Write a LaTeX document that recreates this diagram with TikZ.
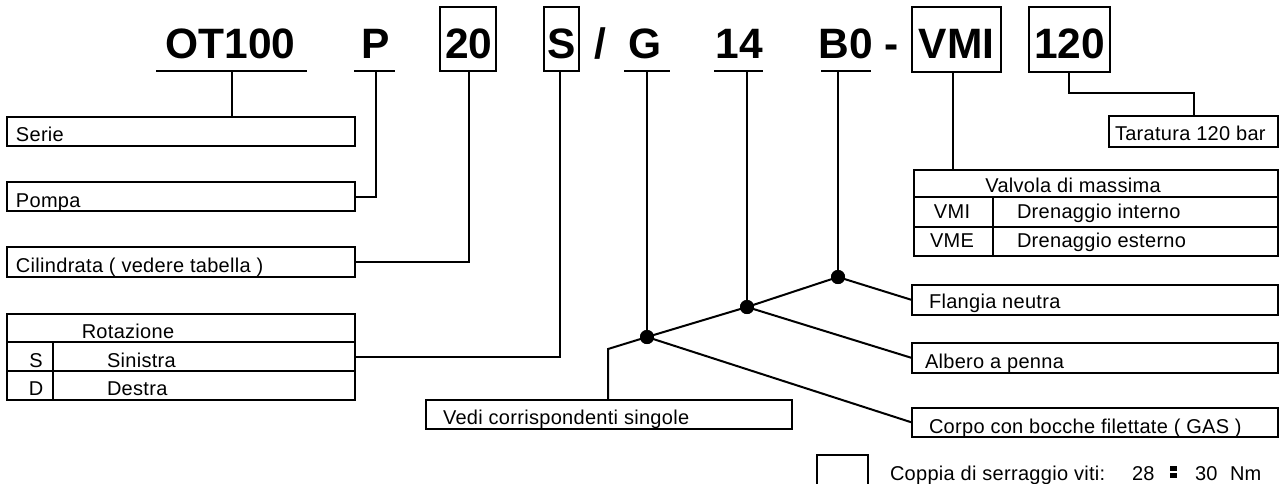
\documentclass[tikz,border=0pt]{standalone}
\usepackage{fontspec}
\setmainfont{Liberation Sans}
\newfontfamily\lblfam[LetterSpace=1.5]{Liberation Sans}
\newcommand\mylblfont{\lblfam\fontsize{20}{20}\selectfont}
\newcommand\mycodefont{\fontsize{42.5}{42.5}\selectfont\bfseries}
\tikzset{
  box/.style={draw, line width=2pt, inner sep=0pt, outer sep=0pt, anchor=north west},
  lbl/.style={font=\mylblfont, anchor=base west, inner sep=0pt, outer sep=0pt},
  lblc/.style={font=\mylblfont, anchor=base, inner sep=0pt, outer sep=0pt},
  code/.style={font=\mycodefont, anchor=base, inner sep=0pt, outer sep=0pt},
  wire/.style={line width=2pt},
  jdot/.style={circle, fill=black, inner sep=0pt, minimum size=14pt},
}
\begin{document}
\begin{tikzpicture}[x=1pt, y=-1pt]
\useasboundingbox (0,0) rectangle (1285,483);

% ---- code line ----
\node[code] (tOT) at (230.5,58) {OT100};
\node[code] (tP) at (376,58) {P};
\node[code] (t20) at (469,58) {20};
\node[code] (tS) at (561.5,58) {S};
\node[code] (tSl) at (600,58) {/};
\node[code] (tG) at (645,58) {G};
\node[code] (t14) at (739.5,58) {14};
\node[code] (tB0) at (845.5,58) {B0};
\node[code] (tDash) at (892,58) {-};
\node[code] (tVMI) at (956.5,58) {VMI};
\node[code] (t120) at (1069.5,58) {120};

\node[box, minimum width=56pt, minimum height=64pt] (b20) at (440,7) {};
\node[box, minimum width=35pt, minimum height=64pt] (bS) at (544,7) {};
\node[box, minimum width=89pt, minimum height=65pt] (bVMI) at (912,7) {};
\node[box, minimum width=81pt, minimum height=65pt] (b120) at (1029,7) {};

% underlines
\coordinate (uOTa) at (156,71); \coordinate (uOTb) at (307,71);
\coordinate (uPa) at (354,71);  \coordinate (uPb) at (395,71);
\coordinate (uGa) at (624,71);  \coordinate (uGb) at (670,71);
\coordinate (u14a) at (714,71); \coordinate (u14b) at (763,71);
\coordinate (uBa) at (821,71);  \coordinate (uBb) at (871,71);
\draw[wire] (uOTa) -- (uOTb);
\draw[wire] (uPa) -- (uPb);
\draw[wire] (uGa) -- (uGb);
\draw[wire] (u14a) -- (u14b);
\draw[wire] (uBa) -- (uBb);

% ---- left boxes ----
\node[box, minimum width=348pt, minimum height=29pt] (serie) at (7,117) {};
\node[lbl] (serieT) at (16,141) {Serie};
\node[box, minimum width=348pt, minimum height=29pt] (pompa) at (7,182) {};
\node[lbl] (pompaT) at (16,207) {Pompa};
\node[box, minimum width=348pt, minimum height=30pt] (cil) at (7,247) {};
\node[lbl] (cilT) at (16,272) {Cilindrata ( vedere tabella )};
\node[box, minimum width=348pt, minimum height=86pt] (rot) at (7,314) {};
\coordinate (r1a) at (7,342); \coordinate (r1b) at (355,342);
\coordinate (r2a) at (7,371); \coordinate (r2b) at (355,371);
\coordinate (rva) at (53,342); \coordinate (rvb) at (53,400);
\draw[wire] (r1a) -- (r1b);
\draw[wire] (r2a) -- (r2b);
\draw[wire] (rva) -- (rvb);
\node[lblc] (rotT) at (128,338) {Rotazione};
\node[lblc] (rotS) at (36,367) {S};
\node[lbl] (rotSi) at (107,367) {Sinistra};
\node[lblc] (rotD) at (36,395) {D};
\node[lbl] (rotDe) at (107,395) {Destra};

% ---- right boxes ----
\node[box, minimum width=169pt, minimum height=31pt] (tar) at (1109,116) {};
\node[lbl] (tarT) at (1115,140) {Taratura 120 bar};
\node[box, minimum width=364pt, minimum height=86pt] (valv) at (914,170) {};
\coordinate (v1a) at (914,197); \coordinate (v1b) at (1278,197);
\coordinate (v2a) at (914,227); \coordinate (v2b) at (1278,227);
\coordinate (vva) at (993,197); \coordinate (vvb) at (993,256);
\draw[wire] (v1a) -- (v1b);
\draw[wire] (v2a) -- (v2b);
\draw[wire] (vva) -- (vvb);
\node[lblc] (valvT) at (1073,192) {Valvola di massima};
\node[lblc] (valvI) at (952,218) {VMI};
\node[lbl] (valvIT) at (1017,218) {Drenaggio interno};
\node[lblc] (valvE) at (952,247) {VME};
\node[lbl] (valvET) at (1017,247) {Drenaggio esterno};

\node[box, minimum width=366pt, minimum height=30pt] (fla) at (912,285) {};
\node[lbl] (flaT) at (929,308) {Flangia neutra};
\node[box, minimum width=366pt, minimum height=30pt] (alb) at (912,343) {};
\node[lbl] (albT) at (925,368) {Albero a penna};
\node[box, minimum width=366pt, minimum height=29pt] (cor) at (912,408) {};
\node[lbl] (corT) at (929,433) {Corpo con bocche filettate ( GAS )};

\node[box, minimum width=366pt, minimum height=29pt] (vedi) at (426,400) {};
\node[lbl] (vediT) at (443,424) {Vedi corrispondenti singole};

% ---- connectors ----
\coordinate (cOT) at (232,71);
\coordinate (cP) at (376,71);
\coordinate (c20) at (469,71);
\coordinate (cS) at (560,71);
\coordinate (cG) at (647,71);
\coordinate (c14) at (747,71);
\coordinate (cB0) at (838,71);
\coordinate (cVMI) at (953,72);
\coordinate (c120) at (1069,72);
\coordinate (k120) at (1069,93);
\coordinate (kV) at (608,349);

\draw[wire] (cOT) -- (cOT |- serie.north);
\draw[wire] (cP) |- (pompa.east);
\draw[wire] (c20) |- (cil.east);
\draw[wire] (cS) |- (rot.east);
\draw[wire] (cVMI) -- (cVMI |- valv.north);
\draw[wire] (c120) -- (k120) -| (tar.north);

\node[jdot] (dG) at (647,337) {};
\node[jdot] (d14) at (747,307) {};
\node[jdot] (dB0) at (838,277) {};
\draw[wire] (cG) -- (dG.center);
\draw[wire] (c14) -- (d14.center);
\draw[wire] (cB0) -- (dB0.center);
\draw[wire] (dB0.center) -- (d14.center) -- (dG.center) -- (kV) -- (kV |- vedi.north);
\draw[wire] (dB0.center) -- (fla.west);
\draw[wire] (d14.center) -- (alb.west);
\draw[wire] (dG.center) -- (cor.west);
\node[jdot] at (dG) {};
\node[jdot] at (d14) {};
\node[jdot] at (dB0) {};

% ---- legend ----
\coordinate (la) at (817,484); \coordinate (lb) at (817,455);
\coordinate (lc) at (868,455); \coordinate (ld) at (868,484);
\draw[wire] (la) -- (lb) -- (lc) -- (ld);
\node[lbl] (copT) at (890,480) {Coppia di serraggio viti:};
\node[lbl] (cop28) at (1132,480) {28};
\fill (1170,466) rectangle (1177,471);
\fill (1170,473) rectangle (1177,478);
\node[lbl] (cop30) at (1195,480) {30};
\node[lbl] (copNm) at (1230,480) {Nm};
\end{tikzpicture}
\end{document}
